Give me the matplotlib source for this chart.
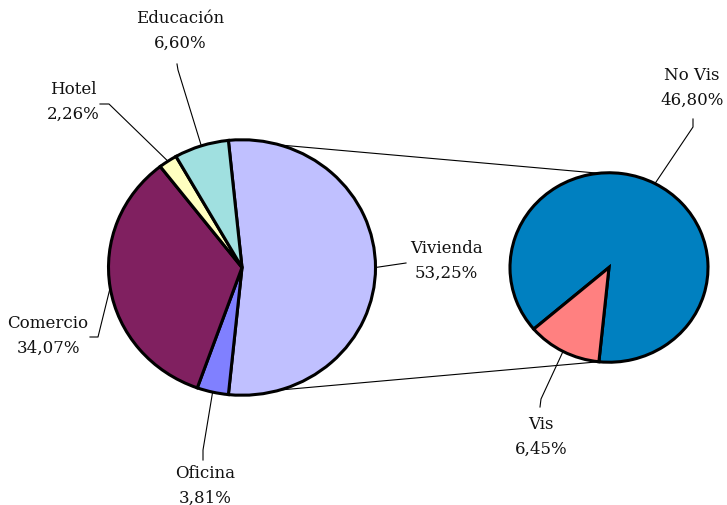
import numpy as np
import matplotlib

matplotlib.use("Agg")
import matplotlib.pyplot as plt

# canvas in pixels; y is stretched a bit so the pies come out slightly wide, like Excel
W, H = 727, 506
SY = 1.045

labels_main = ["Vivienda", "Oficina", "Comercio", "Hotel", "Educación"]
values_main = [53.25, 3.81, 34.07, 2.26, 6.60]
colors_main = ["#C0C0FF", "#8080FF", "#802060", "#FFFFC0", "#A0E0E0"]

labels_sub = ["No Vis", "Vis"]
values_sub = [46.80, 6.45]
colors_sub = ["#0080C0", "#FF8080"]

# label text centre and leader elbow points, in picture pixels
text_pos_main = [(446, 261), (205, 486), (48, 336), (73, 102), (180, 31)]
leader_main = [
    [(406, 264)],
    [(203, 461), (203, 451)],
    [(90, 338), (98, 338)],
    [(100, 105), (109, 105)],
    [(177, 65), (178, 71)],
]
text_pos_sub = [(692, 88), (541, 437)]
leader_sub = [
    [(693, 120), (693, 128)],
    [(540, 408), (541, 400)],
]


def px(x, y):
    return x, (H - y) * SY


def fmt(v):
    return f"{v:.2f}%".replace(".", ",")


def draw_labels(ax, wedges, center, radius, labels, values, text_pos, leaders):
    for w, lab, val, tp, pts in zip(wedges, labels, values, text_pos, leaders):
        mid = np.deg2rad((w.theta1 + w.theta2) / 2)
        ax_pt = (center[0] + radius * np.cos(mid), center[1] + radius * np.sin(mid))
        path = [px(*p) for p in pts] + [ax_pt]
        xs, ys = zip(*path)
        ax.plot(xs, ys, color="black", lw=0.8, zorder=1)
        ax.text(*px(*tp), f"{lab}\n{fmt(val)}", ha="center", va="center",
                fontsize=12, family="DejaVu Serif", linespacing=1.6, color="#111111")


def main():
    fig = plt.figure(figsize=(W / 100, H / 100), dpi=100)
    ax = fig.add_axes([0, 0, 1, 1])

    c1 = px(242, 268.5)
    r1 = 133.5
    c2 = px(609, 268.5)
    r2 = 99

    half = 360 * values_main[0] / sum(values_main) / 2
    wedges1, _ = ax.pie(values_main, colors=colors_main, startangle=half,
                        counterclock=False, center=c1, radius=r1, frame=True,
                        wedgeprops=dict(edgecolor="black", linewidth=2.2))

    start2 = -half + 360 * values_sub[0] / sum(values_sub)
    wedges2, _ = ax.pie(values_sub, colors=colors_sub, startangle=start2,
                        counterclock=False, center=c2, radius=r2, frame=True,
                        wedgeprops=dict(edgecolor="black", linewidth=2.2))

    # connector lines between the two pies
    for a in (half, -half):
        t = np.deg2rad(a)
        ax.plot([c1[0] + r1 * np.cos(t), c2[0] + r2 * np.cos(t)],
                [c1[1] + r1 * np.sin(t), c2[1] + r2 * np.sin(t)],
                color="black", lw=0.8, zorder=0)

    draw_labels(ax, wedges1, c1, r1, labels_main, values_main, text_pos_main, leader_main)
    draw_labels(ax, wedges2, c2, r2, labels_sub, values_sub, text_pos_sub, leader_sub)

    ax.set_aspect("auto")
    ax.set_xlim(0, W)
    ax.set_ylim(0, H * SY)
    ax.axis("off")

    fig.savefig("out.png", dpi=100, facecolor="white")
    plt.close(fig)


if __name__ == "__main__":
    main()
